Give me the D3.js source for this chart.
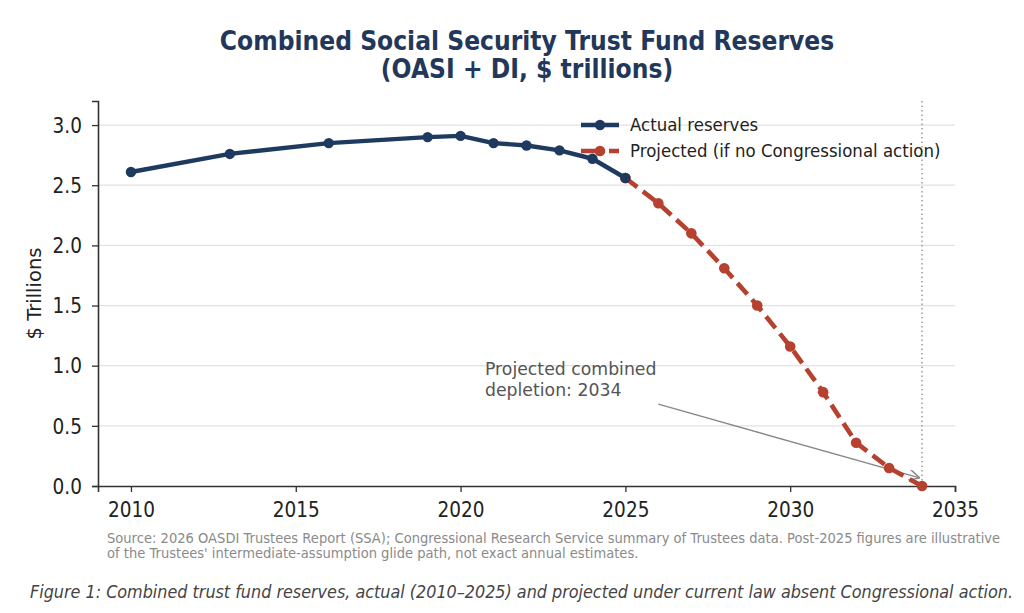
<!DOCTYPE html>
<html>
<head>
<meta charset="utf-8">
<script src="https://cdn.jsdelivr.net/npm/d3@7"></script>
<style>
  body { margin: 0; background: #fff; }
  svg text { font-family: "DejaVu Sans", sans-serif; }
</style>
</head>
<body>
<svg width="1024" height="613"></svg>
<script>
// actual reserves, $ trillions
var actualYears = [2010, 2013, 2016, 2019, 2020, 2021, 2022, 2023, 2024, 2025];
var actualValues = [2.61, 2.76, 2.85, 2.90, 2.91, 2.85, 2.83, 2.79, 2.72, 2.56];
// projected path with no Congressional action
var projYears = [2025, 2026, 2027, 2028, 2029, 2030, 2031, 2032, 2033, 2034];
var projValues = [2.56, 2.35, 2.10, 1.81, 1.50, 1.16, 0.78, 0.36, 0.15, 0.0];
var xTicks = [2010, 2015, 2020, 2025, 2030, 2035];
var yTicks = [0, 0.5, 1.0, 1.5, 2.0, 2.5, 3.0];
var depletionYear = 2034;

var navy = "#1f3a5f", red = "#b5412e";
var stretch = 1.1; // the picture's text is a bit taller than wide

var svg = d3.select("svg"),
    margin = {top: 101, right: 69, bottom: 127, left: 98},
    width = +svg.attr("width") - margin.left - margin.right,
    height = +svg.attr("height") - margin.top - margin.bottom,
    g = svg.append("g").attr("transform", "translate(" + margin.left + "," + margin.top + ")");

var x = d3.scaleLinear().domain([2009, 2035]).range([0, width]);
var y = d3.scaleLinear().domain([0, 3.2]).range([height, 0]);

// text placed at x,y and stretched vertically
function label(parent, tx, ty, str, size, sy) {
  return parent.append("text")
      .attr("transform", "translate(" + tx + "," + ty + ") scale(1," + (sy || stretch) + ")")
      .attr("font-size", size)
      .text(str);
}

// title
label(svg, 527, 50, "Combined Social Security Trust Fund Reserves", 23.5, 1.1)
    .attr("text-anchor", "middle").attr("font-weight", "bold").attr("fill", "#22375a");
label(svg, 527, 78, "(OASI + DI, $ trillions)", 23.5, 1.1)
    .attr("text-anchor", "middle").attr("font-weight", "bold").attr("fill", "#22375a");

// grid
g.append("g").selectAll("line").data(yTicks.filter(function(d) { return d > 0; }))
  .enter().append("line")
    .attr("x1", 0).attr("x2", width)
    .attr("y1", y).attr("y2", y)
    .attr("stroke", "#e2e2e2").attr("stroke-width", 1.2);

// depletion marker
g.append("line")
    .attr("x1", x(depletionYear)).attr("x2", x(depletionYear))
    .attr("y1", 0).attr("y2", height)
    .attr("stroke", "#999").attr("stroke-width", 1.5).attr("stroke-dasharray", "1.5,3");

function customXAxis(gx) {
  gx.call(d3.axisBottom(x).tickValues(xTicks).tickFormat(d3.format("d")).tickSizeOuter(0).tickSize(6));
  gx.select(".domain").attr("stroke", "#333").attr("stroke-width", 1.6);
  gx.selectAll(".tick line").attr("stroke", "#333").attr("stroke-width", 1.3);
  gx.selectAll(".tick text").attr("font-size", 18.5).attr("fill", "#222")
    .attr("font-family", "DejaVu Sans")
    .attr("y", null).attr("dy", null)
    .attr("transform", "translate(0,31) scale(1," + stretch + ")");
}
function customYAxis(gy) {
  gy.call(d3.axisLeft(y).tickValues(yTicks).tickFormat(d3.format(".1f")).tickSizeOuter(0).tickSize(6));
  gy.select(".domain").attr("stroke", "#333").attr("stroke-width", 1.6);
  gy.selectAll(".tick line").attr("stroke", "#333").attr("stroke-width", 1.3);
  gy.selectAll(".tick text").attr("font-size", 18.5).attr("fill", "#222")
    .attr("font-family", "DejaVu Sans")
    .attr("x", null).attr("dy", null)
    .attr("transform", "translate(-16,7.3) scale(1," + stretch + ")");
}

g.append("g").attr("transform", "translate(0," + height + ")").call(customXAxis);
g.append("g").call(customYAxis);

svg.append("text")
    .attr("transform", "translate(41," + 293.5 + ") rotate(-90)")
    .attr("text-anchor", "middle").attr("font-size", 19.5).attr("fill", "#222")
    .text("$ Trillions");

var line = d3.line().x(function(d) { return x(d[0]); }).y(function(d) { return y(d[1]); });
var actual = d3.zip(actualYears, actualValues);
var proj = d3.zip(projYears, projValues);

// annotation arrow
var a0 = [x(2026.0), y(0.68)], a1 = [x(2033.9), y(0.07)];
svg.append("defs").append("marker")
    .attr("id", "arr").attr("viewBox", "0 0 10 10").attr("refX", 9).attr("refY", 5)
    .attr("markerWidth", 11).attr("markerHeight", 11).attr("markerUnits", "userSpaceOnUse")
    .attr("orient", "auto")
  .append("path").attr("d", "M0,0L10,5L0,10").attr("fill", "none")
    .attr("stroke", "#888").attr("stroke-width", 1.3);
g.append("line")
    .attr("x1", a0[0]).attr("y1", a0[1]).attr("x2", a1[0]).attr("y2", a1[1])
    .attr("stroke", "#888").attr("stroke-width", 1.4).attr("marker-end", "url(#arr)");

g.append("path").datum(proj).attr("d", line).attr("fill", "none")
    .attr("stroke", red).attr("stroke-width", 4.6).attr("stroke-dasharray", "15,7");
g.append("g").selectAll("circle").data(proj).enter().append("circle")
    .attr("cx", function(d) { return x(d[0]); }).attr("cy", function(d) { return y(d[1]); })
    .attr("r", 5.3).attr("fill", red);

g.append("path").datum(actual).attr("d", line).attr("fill", "none")
    .attr("stroke", navy).attr("stroke-width", 4.4).attr("stroke-linejoin", "round");
g.append("g").selectAll("circle").data(actual).enter().append("circle")
    .attr("cx", function(d) { return x(d[0]); }).attr("cy", function(d) { return y(d[1]); })
    .attr("r", 5.2).attr("fill", navy);

label(svg, 485, 375, "Projected combined", 17.3, 1.0).attr("fill", "#555");
label(svg, 485, 396, "depletion: 2034", 17.3, 1.0).attr("fill", "#555");

// legend
var legend = svg.append("g").attr("transform", "translate(581,125)");
legend.append("line").attr("x1", 0).attr("x2", 38).attr("stroke", navy).attr("stroke-width", 4.4);
legend.append("circle").attr("cx", 19).attr("r", 5.2).attr("fill", navy);
label(legend, 49, 6, "Actual reserves", 16.6).attr("fill", "#222");
var lg2 = legend.append("g").attr("transform", "translate(0,26)");
lg2.append("line").attr("x1", 0).attr("x2", 38).attr("stroke", red).attr("stroke-width", 4.6).attr("stroke-dasharray", "22,6");
lg2.append("circle").attr("cx", 19).attr("r", 5.3).attr("fill", red);
label(lg2, 49, 6, "Projected (if no Congressional action)", 16.6).attr("fill", "#222");

// source note
label(svg, 107, 543, "Source: 2026 OASDI Trustees Report (SSA); Congressional Research Service summary of Trustees data. Post-2025 figures are illustrative", 13.1)
    .attr("fill", "#8a8a8a");
label(svg, 107, 558, "of the Trustees' intermediate-assumption glide path, not exact annual estimates.", 13.1)
    .attr("fill", "#8a8a8a");

// caption
svg.append("text").attr("transform", "translate(30,598) scale(1,1.12)")
    .attr("font-family", "'Open Sans', sans-serif").attr("font-style", "italic")
    .attr("font-size", 16).attr("fill", "#444")
    .attr("textLength", 983).attr("lengthAdjust", "spacingAndGlyphs")
    .text("Figure 1: Combined trust fund reserves, actual (2010\u20132025) and projected under current law absent Congressional action.");
</script>
</body>
</html>
